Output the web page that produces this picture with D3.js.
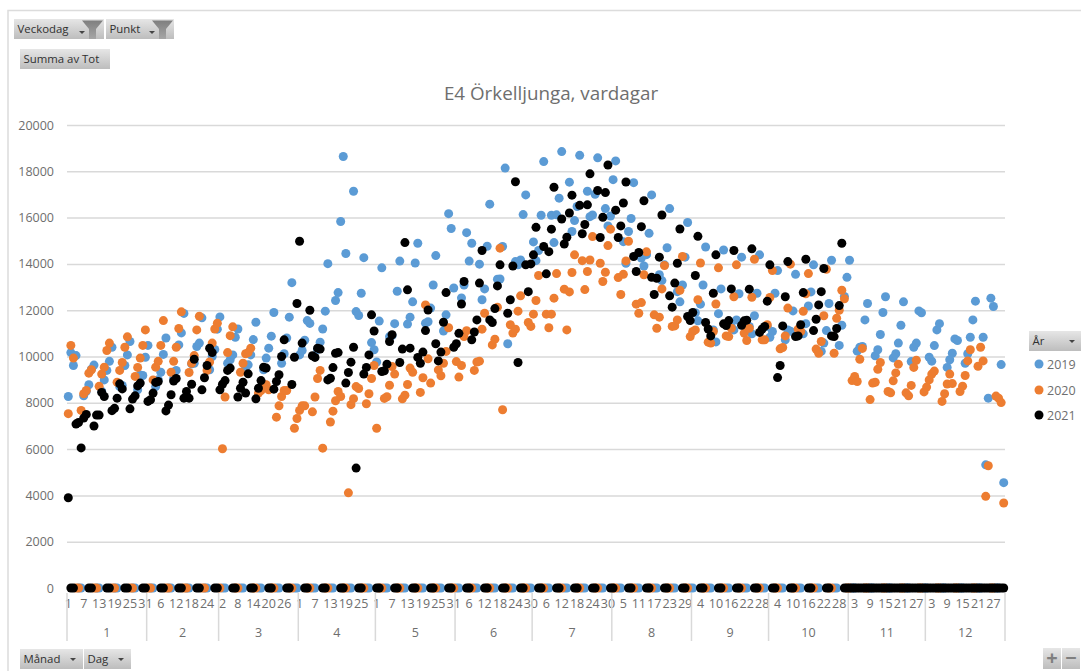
<!DOCTYPE html>
<html>
<head>
<meta charset="utf-8">
<title>E4 Örkelljunga, vardagar</title>
<script src="https://cdn.jsdelivr.net/npm/d3@7"></script>
<style>
  html, body { margin: 0; background: #fff; }
  text { font-family: "Open Sans", sans-serif; }
</style>
</head>
<body>
<div id="chart"></div>
<script>
// categories
const monthNames = ['1', '2', '3', '4', '5', '6', '7', '8', '9', '10', '11', '12'];
const monthLengths = [31, 28, 31, 30, 31, 30, 31, 31, 30, 31, 30, 31];
const yTicks = [0, 2000, 4000, 6000, 8000, 10000, 12000, 14000, 16000, 18000, 20000];
const years = ['2019', '2020', '2021'];

// one value per calendar day, a line per week, 0 on days without counts
const values2019 = [
  8270, 10170, 9610, 10040, 0, 0,
  8300, 8500, 8780, 9450, 9630, 0, 0,
  8500, 8990, 9400, 9790, 10400, 0, 0,
  8700, 8750, 9610, 10070, 10650, 0, 0,
  8560, 9200, 9180, 9970, 10480, 0, 0,
  8700, 9000, 9320, 10090, 10800, 0, 0,
  9050, 9400, 10500, 11020, 11860, 0, 0,
  9680, 9710, 10430, 10580, 11670, 0, 0,
  9430, 10000, 10300, 11180, 11710, 0, 0,
  9710, 9860, 10070, 10830, 11190, 0, 0,
  9500, 9640, 10070, 10730, 11480, 0, 0,
  9430, 9930, 10360, 10880, 11900, 0, 0,
  9710, 10120, 10800, 11700, 13190, 0, 0,
  10070, 10260, 10700, 11550, 11430, 0, 0,
  10300, 10620, 11190, 11960, 14010, 0, 0,
  12420, 12760, 15830, 18640, 14450, 0, 0,
  17140, 11940, 11770, 12730, 14270, 0, 0,
  10600, 10290, 9760, 11530, 13830, 0, 0,
  10860, 10900, 11420, 12820, 14120, 0, 0,
  11400, 11700, 12360, 14040, 14890, 0, 0,
  11440, 11500, 12090, 13090, 14360, 0, 0,
  11100, 11800, 16170, 15530, 12960, 0, 0,
  12530, 13090, 15350, 14120, 14890, 0, 0,
  13990, 12450, 12920, 14760, 16580, 0, 0,
  13340, 13350, 14750, 18140, 10550, 0, 0,
  14100, 13960, 14170, 16130, 16980, 0, 0,
  14950, 14140, 14580, 16100, 18420, 0, 0,
  16100, 14920, 16120, 16840, 18850, 0, 0,
  17530, 15400, 15870, 16480, 18690, 0, 0,
  17140, 16040, 16110, 17010, 18580, 0, 0,
  16390, 15640, 16070, 17640, 18450, 0, 0,
  14960, 14030, 15400, 15960, 17510, 0, 0,
  14250, 13910, 14400, 15320, 16980, 0, 0,
  13530, 13280, 13960, 14700, 16390, 0, 0,
  12800, 12360, 13090, 14290, 15790, 0, 0,
  11890, 11540, 12260, 13090, 14730, 0, 0,
  11150, 10630, 11850, 12920, 14600, 0, 0,
  11300, 11150, 11580, 12710, 14290, 0, 0,
  11300, 10980, 11760, 12730, 14390, 0, 0,
  11300, 10830, 11080, 12730, 13710, 0, 0,
  10720, 11150, 11090, 11970, 13550, 0, 0,
  10980, 11420, 12180, 12790, 13960, 0, 0,
  10220, 10580, 11120, 12290, 14160, 0, 0,
  10480, 11350, 12590, 13420, 14160, 0, 0,
  10230, 10400, 10430, 11580, 12290, 0, 0,
  10030, 10290, 10950, 11900, 12580, 0, 0,
  9940, 10120, 10580, 11350, 12360, 0, 0,
  9780, 10400, 10580, 11970, 11890, 0, 0,
  9970, 9800, 10470, 11150, 11420, 0, 0,
  9530, 9860, 10140, 10760, 10690, 0, 0,
  9710, 10120, 10830, 11580, 12390, 0, 0,
  10830, 5320, 8200, 12520, 12160, 0, 0,
  9650, 4550
];

const values2020 = [
  7530, 10480, 9930, 0, 0,
  7670, 8390, 8530, 9280, 9430, 0, 0,
  8710, 9240, 9540, 10260, 10580, 0, 0,
  8890, 9400, 9740, 10400, 10850, 0, 0,
  9140, 9530, 9930, 10480, 11150, 0, 0,
  8990, 9540, 9790, 10480, 11550, 0, 0,
  9320, 9790, 10400, 11210, 11930, 0, 0,
  9310, 9710, 10040, 11150, 11740, 0, 0,
  9400, 9760, 10580, 11190, 11440, 0,
  6015, 8250, 10170, 10900, 11280, 0, 0,
  9320, 9710, 10120, 10170, 10360, 0, 0,
  8420, 8530, 8700, 8780, 8560, 0, 0,
  7380, 7870, 8270, 8530, 8530, 0, 0,
  6900, 7320, 7670, 7870, 7870, 0, 0,
  7610, 8250, 9050, 9400, 6040, 0, 0,
  7170, 7640, 8090, 8490, 8270, 0, 0,
  4110, 7920, 8180, 8700, 8620, 0, 0,
  7960, 8390, 9050, 9610, 6900, 0, 0,
  8190, 8260, 8760, 9570, 9240, 0, 0,
  8170, 8330, 8790, 9500, 9320, 0, 0,
  8450, 9080, 12230, 9900, 8850, 0, 0,
  9420, 9170, 9710, 10220, 11240, 0, 0,
  9780, 9110, 9610, 10860, 11110, 0, 0,
  9400, 9760, 9800, 11180, 11870, 0, 0,
  10500, 10750, 12130, 14680, 7700, 0, 0,
  11370, 11010, 11180, 11960, 12620, 0, 0,
  11470, 11300, 11830, 12420, 13500, 0, 0,
  11830, 11240, 11830, 12520, 13580, 0, 0,
  12910, 11150, 12790, 13630, 14390, 0, 0,
  14140, 12890, 13670, 14170, 15180, 0, 0,
  14030, 13240, 13640, 14790, 15500, 0, 0,
  13410, 12680, 13550, 14130, 14980, 0, 0,
  12260, 11870, 12330, 13530, 14520, 0, 0,
  11800, 11220, 11700, 12920, 13930, 0, 0,
  11300, 11320, 11580, 12860, 14320, 0, 0,
  10860, 11080, 11150, 12450, 14040, 0, 0,
  10620, 10580, 11080, 12270, 13830, 0, 0,
  10890, 10860, 11220, 12580, 13960, 0, 0,
  11010, 10690, 11220, 12560, 14200, 0, 0,
  10720, 10720, 11370, 12550, 13710, 0, 0,
  10330, 10390, 10890, 12090, 13990, 0, 0,
  11180, 11080, 11950, 12710, 13580, 0, 0,
  10320, 10140, 10650, 11760, 13770, 0, 0,
  10140, 11650, 12000, 12860, 12490, 0, 0,
  8960, 9140, 8920, 9880, 10350, 0, 0,
  8140, 8850, 8890, 9450, 9740, 0, 0,
  8490, 8430, 8950, 9290, 9670, 0, 0,
  8430, 8300, 8750, 9530, 9840, 0, 0,
  8470, 8680, 8990, 9240, 9370, 0, 0,
  8060, 8390, 8810, 9240, 8830, 0, 0,
  8490, 8720, 9180, 9810, 10290, 0, 0,
  9580, 10400, 9810, 3960, 5280, 0, 0,
  8290, 8200, 8010, 3670
];

const values2021 = [
  3900, 0, 0,
  7080, 7150, 6050, 7340, 7500, 0, 0,
  7000, 7470, 7470, 8450, 8270, 0, 0,
  7660, 7760, 8200, 8820, 8600, 0, 0,
  7740, 8160, 8300, 8730, 8850, 0, 0,
  8060, 8130, 8420, 8880, 8920, 0, 0,
  7650, 7900, 8350, 8940, 9050, 0, 0,
  8200, 8490, 8200, 8800, 9880, 0, 0,
  8560, 9080, 9610, 10360, 10170, 0, 0,
  8560, 8800, 8960, 9400, 9500, 0, 0,
  8250, 8630, 8890, 8420, 9250, 0, 0,
  8170, 8630, 8960, 9540, 9500, 0, 0,
  8590, 8920, 9210, 10000, 10720, 0, 0,
  8790, 9970, 12290, 14980, 10580, 0, 0,
  12000, 10030, 9960, 10360, 10320, 0, 0,
  8990, 9060, 9520, 10140, 10170, 0, 0,
  8850, 9310, 9755, 10400, 5180, 0, 0,
  9240, 9530, 10070, 11800, 11100, 0, 0,
  9350, 9380, 9670, 10650, 10940, 0, 0,
  9740, 10320, 14920, 12880, 10360, 0, 0,
  9960, 9710, 10190, 11120, 12010, 0, 0,
  10550, 9810, 10190, 11480, 12760, 0, 0,
  10400, 10550, 11000, 12270, 13240, 0, 0,
  10720, 11060, 11580, 13170, 14580, 0, 0,
  11580, 11470, 12070, 13050, 13960, 0, 0,
  11870, 12450, 13910, 17550, 9740, 0, 0,
  13960, 12800, 14000, 14390, 15580, 0, 0,
  14750, 13570, 14530, 15500, 17310, 0, 0,
  15940, 14860, 15150, 16200, 16970, 0, 0,
  16530, 15300, 15700, 16550, 17890, 0, 0,
  17170, 15140, 16010, 17080, 18270, 0, 0,
  16320, 15140, 15640, 16630, 17540, 0, 0,
  14320, 13670, 14490, 15610, 16730, 0, 0,
  13420, 12680, 13380, 14290, 16110, 0, 0,
  12620, 12130, 13170, 14030, 15510, 0, 0,
  11730, 11550, 11900, 13500, 15190, 0, 0,
  11470, 11190, 10890, 12730, 14390, 0, 0,
  11410, 11340, 11550, 12920, 14580, 0, 0,
  11350, 11540, 11570, 12910, 14650, 0, 0,
  11040, 11190, 11300, 12390, 13960, 0, 0,
  9090, 9610, 11320, 12580, 14100, 0, 0,
  10860, 10890, 11370, 12760, 14200, 0, 0,
  11120, 11610, 12230, 12800, 13800, 0, 0,
  10890, 10860, 11210, 12200, 14890, 0, 0,
  0, 0, 0, 0, 0, 0, 0,
  0, 0, 0, 0, 0, 0, 0,
  0, 0, 0, 0, 0, 0, 0,
  0, 0, 0, 0, 0, 0, 0,
  0, 0, 0, 0, 0, 0, 0,
  0, 0, 0, 0, 0, 0, 0,
  0, 0, 0, 0, 0, 0, 0,
  0, 0, 0, 0, 0, 0, 0,
  0, 0, 0, 0, 0
];

const seriesColors = ['#5b9bd5', '#ed7d31', '#000000'];
const seriesValues = [values2019, values2020, values2021];

// day number for every category, and where each month starts
const dayLabels = monthLengths.flatMap(n => d3.range(1, n + 1));
const monthStarts = monthLengths.map((n, i) => d3.sum(monthLengths.slice(0, i)));

const width = 1081, height = 671;
const plotLeft = 67, plotRight = 1005, plotTop = 125, plotBottom = 588;
const gridColor = '#d9d9d9', textColor = '#6e6e6e';

const x = d3.scaleBand().domain(d3.range(dayLabels.length)).range([plotLeft, plotRight]);
const y = d3.scaleLinear().domain([0, 20000]).range([plotBottom, plotTop]);

const svg = d3.select('#chart').append('svg')
  .attr('width', width)
  .attr('height', height)
  .style('display', 'block');

// gradient for the pivot field buttons
const grad = svg.append('defs').append('linearGradient')
  .attr('id', 'btn').attr('x1', 0).attr('x2', 0).attr('y1', 0).attr('y2', 1);
grad.append('stop').attr('offset', '0').attr('stop-color', '#e6e6e6');
grad.append('stop').attr('offset', '1').attr('stop-color', '#bdbdbd');
const funnelGrad = svg.select('defs').append('linearGradient')
  .attr('id', 'funnel').attr('x1', 0).attr('x2', 0).attr('y1', 0).attr('y2', 1);
funnelGrad.append('stop').attr('offset', '0').attr('stop-color', '#7f7f7f');
funnelGrad.append('stop').attr('offset', '1').attr('stop-color', '#a6a6a6');

// frame of the chart area
svg.append('path')
  .attr('d', 'M8,671V10.5H1081')
  .attr('fill', 'none')
  .attr('stroke', '#dcdcdc')
  .attr('stroke-width', 1.5);

// y axis + gridlines
const yAxis = svg.append('g')
  .attr('transform', `translate(${plotLeft},0)`)
  .call(d3.axisLeft(y).tickValues(yTicks).tickSize(-(plotRight - plotLeft)).tickPadding(13).tickFormat(d3.format('d')));
yAxis.select('.domain').remove();
yAxis.selectAll('line').attr('stroke', gridColor).attr('stroke-width', 1.5);
yAxis.selectAll('text').attr('fill', textColor).style('font-size', '12.5px');

// day labels, every sixth category
const xAxis = svg.append('g')
  .attr('transform', `translate(0,${plotBottom})`)
  .call(d3.axisBottom(x)
    .tickValues(x.domain().filter(i => i % 6 === 0))
    .tickSize(0)
    .tickPadding(11)
    .tickFormat(i => dayLabels[i]));
xAxis.select('.domain').remove();
xAxis.selectAll('text').attr('fill', textColor).style('font-size', '12.5px');

// month separators and month labels
const monthEdges = monthStarts.map(s => x(s)).concat(plotRight);
svg.append('g').selectAll('line')
  .data(monthEdges)
  .enter().append('line')
    .attr('x1', d => d).attr('x2', d => d)
    .attr('y1', plotBottom + 5).attr('y2', 641)
    .attr('stroke', gridColor)
    .attr('stroke-width', 1.5);
svg.append('g').selectAll('text')
  .data(monthNames)
  .enter().append('text')
    .attr('x', (d, i) => (monthEdges[i] + monthEdges[i + 1]) / 2)
    .attr('y', 636.5)
    .attr('text-anchor', 'middle')
    .attr('fill', textColor)
    .style('font-size', '12.5px')
    .text(d => d);

// title
svg.append('text')
  .attr('x', 551).attr('y', 100)
  .attr('text-anchor', 'middle')
  .attr('fill', textColor)
  .style('font-size', '18.8px')
  .text('E4 Örkelljunga, vardagar');

// dots, one group per year, later years on top
svg.selectAll('g.series')
  .data(seriesValues)
  .enter().append('g')
    .attr('class', 'series')
    .attr('fill', (d, i) => seriesColors[i])
  .selectAll('circle')
  .data(d => d)
  .enter().append('circle')
    .attr('cx', (d, i) => x(i) + x.bandwidth() / 2)
    .attr('cy', d => y(d))
    .attr('r', 4.5);

// legend
const legend = svg.append('g').selectAll('g')
  .data(years)
  .enter().append('g')
    .attr('transform', (d, i) => `translate(1039,${[364, 390, 415][i]})`);
legend.append('circle')
  .attr('r', 4.5)
  .attr('fill', (d, i) => seriesColors[i]);
legend.append('text')
  .attr('x', 8).attr('y', 4.5)
  .attr('fill', textColor)
  .style('font-size', '12.5px')
  .text(d => d);

// pivot field buttons
function fieldButton(label, bx, by, w, h, arrowX, arrowY) {
  const g = svg.append('g').attr('transform', `translate(${bx},${by})`);
  g.append('rect').attr('width', w).attr('height', h).attr('fill', 'url(#btn)');
  g.append('text')
    .attr('x', 3.5).attr('y', h / 2 + 4.2)
    .attr('fill', '#303030')
    .style('font-size', '11.4px')
    .text(label);
  if (arrowX) {
    g.append('path')
      .attr('d', `M${arrowX - 3},${arrowY || h / 2 - 1}h6l-3,3z`)
      .attr('fill', '#444');
  }
  return g;
}
function funnel(g, fx) {
  g.append('path')
    .attr('d', `M${fx},1.5h21l-7,8.5v10h-7v-10z`)
    .attr('fill', 'url(#funnel)');
}

funnel(fieldButton('Veckodag', 14, 19, 90, 20, 68, 12), 68);
funnel(fieldButton('Punkt', 106, 19, 68, 20, 46, 12), 46);
fieldButton('Summa av Tot', 20, 49, 90, 20);
fieldButton('Månad', 20, 649, 63, 20, 53);
fieldButton('Dag', 84, 649, 47, 20, 37);
fieldButton('År', 1029, 331, 52, 20, 43);

// zoom buttons bottom right
[['+', 1043], ['−', 1062]].forEach(([s, bx]) => {
  const g = svg.append('g').attr('transform', `translate(${bx},648)`);
  g.append('rect').attr('width', 18).attr('height', 21).attr('fill', 'url(#btn)');
  g.append('text')
    .attr('x', 9).attr('y', 17)
    .attr('text-anchor', 'middle')
    .attr('fill', '#7f7f7f')
    .style('font-size', '20px')
    .style('font-weight', 700)
    .text(s);
});
</script>
</body>
</html>
